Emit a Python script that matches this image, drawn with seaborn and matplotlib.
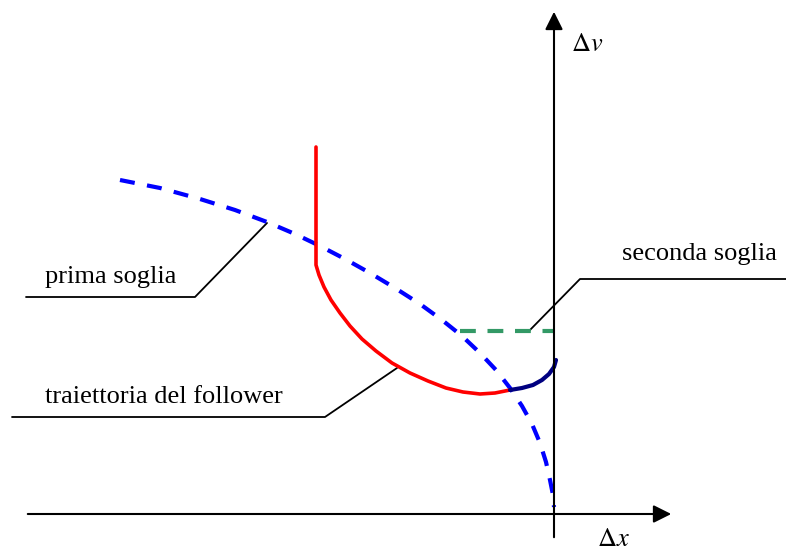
import pandas as pd
import seaborn as sns
import matplotlib.pyplot as plt

# Curves, in picture pixel coordinates (y grows downward)
soglia1_x = [120, 160, 200, 235, 267, 295, 320, 345, 370, 395, 420, 442, 462, 480, 496, 510, 522, 532, 540, 546, 550, 553, 554]
soglia1_y = [180, 188, 199, 210, 222, 234, 246, 259, 273, 288, 304, 320, 336, 353, 370, 388, 406, 424, 443, 462, 480, 495, 507]

follower_x = [316, 316, 316, 319, 324, 331, 340, 350, 362, 376, 392, 410, 428, 446, 463, 480, 495, 510]
follower_y = [147, 265, 265, 275, 287, 300, 313, 326, 339, 351, 363, 373, 381, 388, 392, 394, 393, 390]

finale_x = [510, 522, 533, 542, 549, 554, 556]
finale_y = [390, 388, 385, 380, 374, 367, 360]

soglia2_x = [460, 554]
soglia2_y = [331, 331]

# Leader lines for the labels
leader_labels = ['prima soglia', 'traiettoria del follower', 'seconda soglia']
leader_x = [[267, 195, 26], [397, 325, 12], [530, 580, 786]]
leader_y = [[223, 297, 297], [368, 417, 417], [330, 279, 279]]
label_pos = [(45, 283), (45, 403), (622, 260)]

sns.set_style('white')
plt.rcParams['font.family'] = ['Liberation Serif', 'DejaVu Serif']
plt.rcParams['mathtext.fontset'] = 'stix'
plt.rcParams['text.color'] = 'black'

fig = plt.figure(figsize=(7.86, 5.51), dpi=100)
ax = fig.add_axes([0, 0, 1, 1])
ax.set_xlim(0, 786)
ax.set_ylim(551, 0)
ax.axis('off')

# Axes with arrows
ax.annotate('', xy=(554, 9), xytext=(554, 540),
            arrowprops=dict(arrowstyle='-|>', color='black', lw=1.5, mutation_scale=27))
ax.annotate('', xy=(674, 514), xytext=(25, 514),
            arrowprops=dict(arrowstyle='-|>', color='black', lw=1.5, mutation_scale=27))
ax.text(571, 45, r'$\Delta v$', fontsize=19, va='center', ha='left')
ax.text(597, 540, r'$\Delta x$', fontsize=19, va='center', ha='left')

# Leader lines and labels
for lab, lx, ly, pos in zip(leader_labels, leader_x, leader_y, label_pos):
    sns.lineplot(x=lx, y=ly, sort=False, estimator=None, color='black', lw=1.3, ax=ax)
    ax.text(pos[0], pos[1], lab, fontsize=19, ha='left', va='baseline')

# Thresholds and trajectory
sns.lineplot(x=soglia1_x, y=soglia1_y, sort=False, estimator=None, color='#0000ff', lw=3,
             linestyle=(0, (3.6, 3.0)), ax=ax)
sns.lineplot(x=soglia2_x, y=soglia2_y, sort=False, estimator=None, color='#339966', lw=3,
             linestyle=(0, (3.8, 2.8)), ax=ax)
sns.lineplot(x=follower_x, y=follower_y, sort=False, estimator=None, color='#ff0000', lw=2.6, ax=ax)
sns.lineplot(x=finale_x, y=finale_y, sort=False, estimator=None, color='#000080', lw=3, ax=ax)

fig.savefig('out.png', dpi=100)
